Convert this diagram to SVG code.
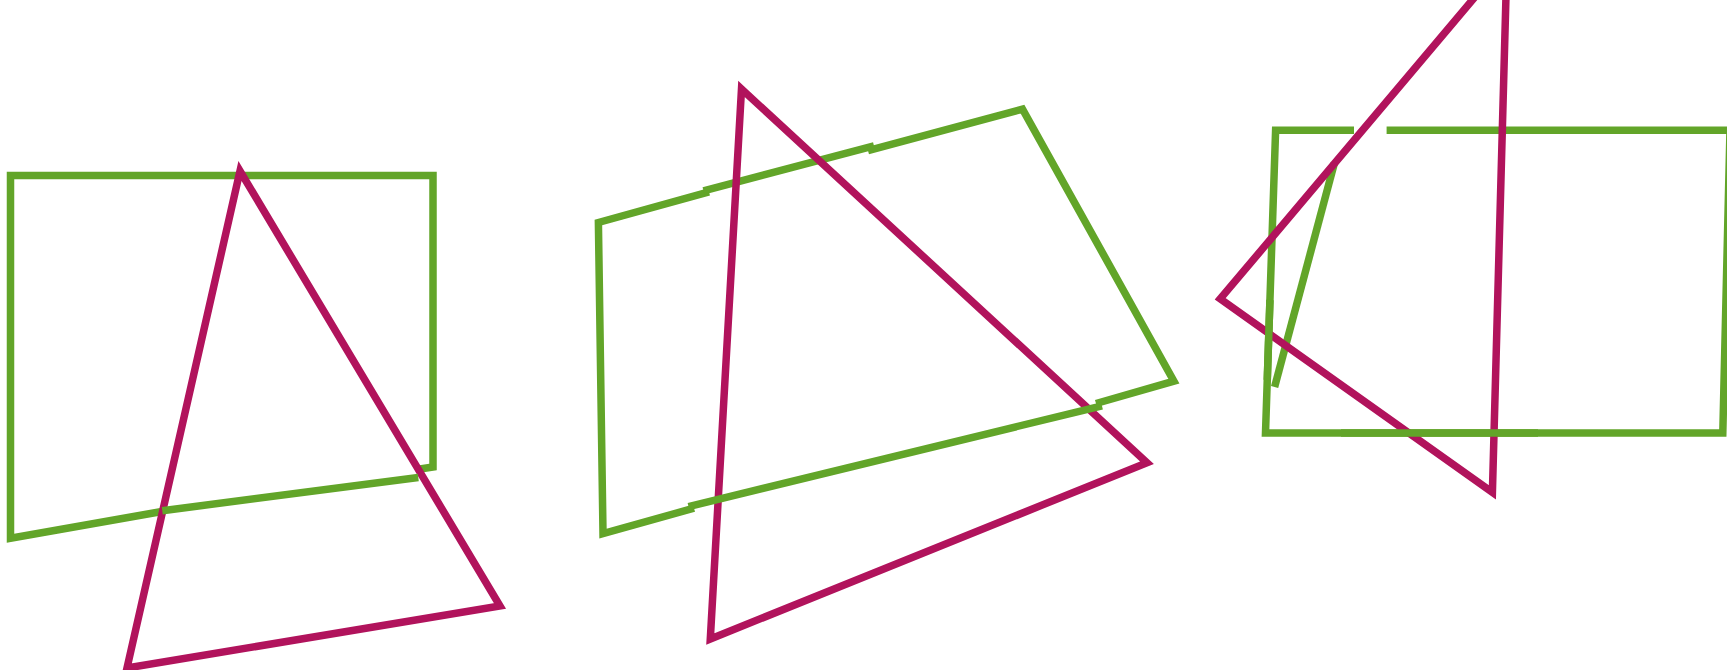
<svg xmlns="http://www.w3.org/2000/svg" width="1727" height="670" viewBox="0 0 1727 670">
<style>
.g{fill:none;stroke:#62a529;stroke-width:7.5;stroke-linejoin:miter;stroke-linecap:butt}
.m{fill:none;stroke:#b1135c;stroke-width:7.5;stroke-linejoin:miter;stroke-miterlimit:10;stroke-linecap:butt}
</style>
<rect width="1727" height="670" fill="#ffffff"/>
<g id="panel1">
<g id="square1">
<path class="g" d="M160.5,511.7 L10.5,538.3 L10.5,175.5 L433,175.5 L433,467 L418.3,469.3"/>
</g>
<g id="triangle1">
<polygon class="m" points="240,171 500,606 127,668"/>
</g>
<path class="g" d="M418.3,477.5 L162.3,510.7"/>
</g>
<g id="panel2">
<g id="square2">
<path class="g" d="M694,508.2 L603,533.6 L598.4,222.5 L709,191.9"/>
<path class="g" d="M703.5,190.8 L874,145.9"/>
<path class="g" d="M868,150.6 L1022.5,109.1 L1173.9,381.1 L1096,403.5"/>
</g>
<g id="triangle2">
<polygon class="m" points="741.5,89 1147,462.7 710.3,639"/>
</g>
<path class="g" d="M1102,405.8 L688.5,506.6"/>
</g>
<g id="panel3">
<g id="square3">
<path class="g" d="M1386.6,130.3 L1740,130.3"/>
<path class="g" d="M1354,130.3 L1275.6,130.3 L1265.5,433 L1722.8,433 L1730,130"/>
<path class="g" d="M1334.5,162.8 L1274.6,387"/>
</g>
<g id="triangle3">
<polygon class="m" points="1507,-41 1492.4,492.3 1220.2,298.9"/>
</g>
<path class="g" d="M1269.94,300 L1267.27,380"/>
<path class="g" d="M1341,433 L1538,433"/>
</g>
</svg>
